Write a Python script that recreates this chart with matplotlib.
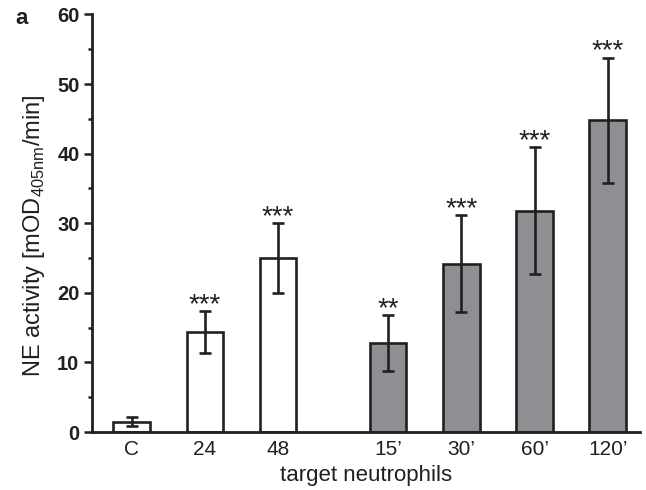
import matplotlib
matplotlib.use("Agg")
import matplotlib.pyplot as plt
from matplotlib.ticker import MultipleLocator

plt.rcParams['font.family'] = ['Liberation Sans', 'DejaVu Sans']
plt.rcParams['mathtext.fontset'] = 'custom'
plt.rcParams['mathtext.rm'] = 'Liberation Sans'

categories = ["C", "24", "48", "15\u2019", "30\u2019", "60\u2019", "120\u2019"]
positions = [0, 1, 2, 3.5, 4.5, 5.5, 6.5]
values = [1.5, 14.4, 25.0, 12.8, 24.2, 31.8, 44.8]
errors = [0.7, 3.0, 5.0, 4.0, 7.0, 9.1, 9.0]
stars = ["", "***", "***", "**", "***", "***", "***"]
groups = ["white", "white", "white", "gray", "gray", "gray", "gray"]

fill = {"white": "white", "gray": "#8e8f93"}
dark = "#231f20"

fig = plt.figure(figsize=(6.46, 4.90), dpi=100)
ax = fig.add_axes([92/646, 58/490, 548/646, 417.6/490])

ax.bar(positions, values, width=0.5, color=[fill[g] for g in groups],
       edgecolor=dark, linewidth=1.9, zorder=2)
ax.errorbar(positions, values, yerr=errors, fmt='none', ecolor=dark,
            elinewidth=1.9, capsize=4, capthick=1.9, zorder=3)

for x, v, e, s in zip(positions, values, errors, stars):
    if s:
        ax.annotate(s, xy=(x, v + e), xytext=(0, -5), textcoords='offset points',
                    ha='center', va='bottom', fontsize=20, color=dark)

ax.set_xlim(-0.54, 6.94)
ax.set_ylim(0, 60)
ax.set_xticks(positions)
ax.set_xticklabels(categories, fontsize=15)
ax.yaxis.set_major_locator(MultipleLocator(10))
ax.yaxis.set_minor_locator(MultipleLocator(5))
for lab in ax.get_yticklabels():
    lab.set_fontweight('bold')
    lab.set_fontsize(14.5)
ax.tick_params(axis='y', which='major', length=6, width=1.8, color=dark, labelcolor=dark, pad=3)
ax.tick_params(axis='y', which='minor', length=3, width=1.8, color=dark)
ax.tick_params(axis='x', length=0, pad=6, labelcolor=dark)

for sp in ['top', 'right']:
    ax.spines[sp].set_visible(False)
for sp in ['left', 'bottom']:
    ax.spines[sp].set_linewidth(2)
    ax.spines[sp].set_color(dark)

ax.set_xlabel("target neutrophils", fontsize=16, color=dark, labelpad=4)
ax.set_ylabel(r"NE activity [mOD$_{\mathregular{405nm}}$/min]", fontsize=17, color=dark)
ax.yaxis.set_label_coords(-0.082, 0.47)

fig.text(15/646, 1 - 18/490, "a", fontsize=16, fontweight='bold', color=dark, va='center', ha='left')

fig.savefig("out.png", dpi=100)
